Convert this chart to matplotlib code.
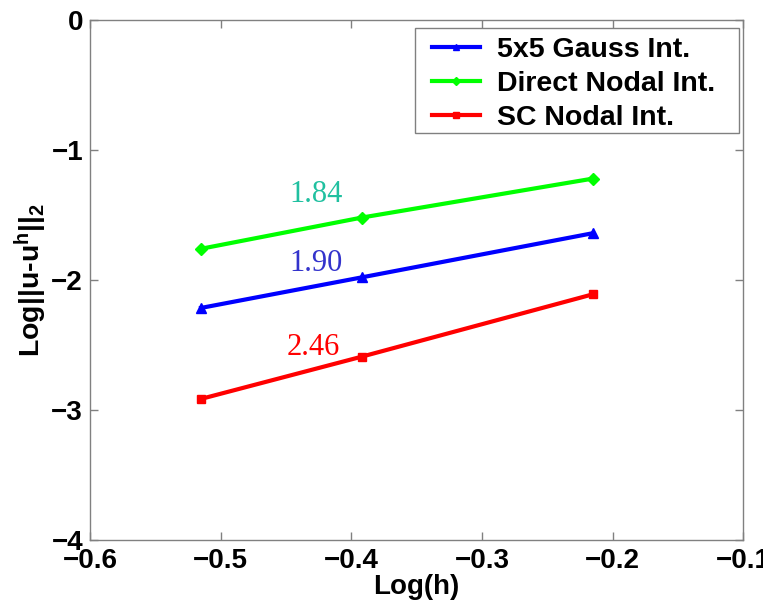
import matplotlib
matplotlib.use("Agg")
import matplotlib.pyplot as plt
from matplotlib.patches import Rectangle

plt.rcParams['font.family'] = ['Liberation Sans', 'DejaVu Sans']
plt.rcParams['font.weight'] = 'bold'
plt.rcParams['mathtext.default'] = 'regular'

# log of mesh size and log of L2 error for the three integration schemes
log_h = [-0.515, -0.392, -0.215]
err_gauss = [-2.215, -1.98, -1.64]
err_direct = [-1.76, -1.52, -1.22]
err_sc = [-2.915, -2.59, -2.11]

labels = ['5x5 Gauss Int.', 'Direct Nodal Int.', 'SC Nodal Int.']
rates = ['1.84', '1.90', '2.46']
rate_x = [-0.427, -0.427, -0.429]
rate_y = [-1.345, -1.87, -2.52]
rate_colors = ['#20c0a0', '#3333cc', '#ff0000']

fig = plt.figure(figsize=(7.63, 6.06), dpi=100)
ax = fig.add_axes([0.118, 0.109, 0.856, 0.858])

ax.plot(log_h, err_gauss, color='#0000ff', lw=3, marker='^', ms=7, label=labels[0])
ax.plot(log_h, err_direct, color='#00ff00', lw=3, marker='D', ms=6, label=labels[1])
ax.plot(log_h, err_sc, color='#ff0000', lw=3, marker='s', ms=6, label=labels[2])

for txt, x, y, c in zip(rates, rate_x, rate_y, rate_colors):
    ax.text(x, y, txt, color=c, fontsize=22, family='Liberation Serif',
            fontweight='normal', ha='center', va='center')

ax.set_xlim(-0.6, -0.1)
ax.set_ylim(-4, 0)
ax.set_xticks([-0.6, -0.5, -0.4, -0.3, -0.2, -0.1])
ax.set_yticks([-4, -3, -2, -1, 0])
ax.set_xticklabels(['\u22120.6', '\u22120.5', '\u22120.4', '\u22120.3', '\u22120.2', '\u22120.1'])
ax.set_yticklabels(['\u22124', '\u22123', '\u22122', '\u22121', '0'])
ax.tick_params(direction='in', top=True, right=True, length=6, width=1,
               color='#808080', labelsize=20)
ax.tick_params(axis='x', pad=6)
ax.tick_params(axis='y', pad=5)
for s in ax.spines.values():
    s.set_color('#808080')
    s.set_linewidth(1)

ax.set_xlabel('Log(h)', fontsize=20, fontweight='bold', labelpad=0)
ax.set_ylabel(r'Log||u-u$^{h}$||$_{2}$', fontsize=20.5, fontweight='bold', labelpad=2)

# legend box drawn separately so the padding can differ left/right vs top/bottom
ax.add_patch(Rectangle((0.498, 0.783), 0.496, 0.202, transform=ax.transAxes,
                       facecolor='white', edgecolor='#808080', lw=1, zorder=4))
leg = ax.legend(loc='upper left', bbox_to_anchor=(0.523, 0.967), borderaxespad=0,
                fontsize=20.5, frameon=False, handlelength=1.7, handletextpad=0.6,
                markerscale=0.7, labelspacing=0.28, borderpad=0)
leg.set_zorder(5)

fig.savefig('out.png', dpi=100)
